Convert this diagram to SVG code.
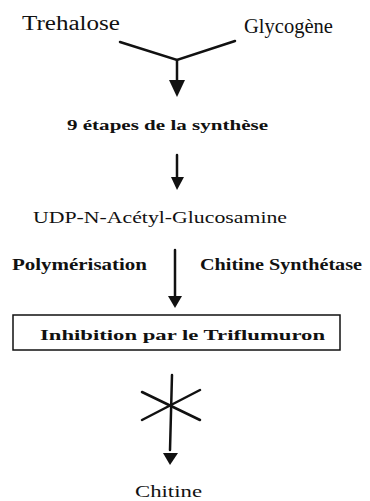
<svg xmlns="http://www.w3.org/2000/svg" width="370" height="501" viewBox="0 0 370 501">
<style>
text{font-family:"Liberation Serif","Times New Roman",serif;font-weight:bold;fill:#111}
text.n{font-weight:normal}
.l{stroke:#111;stroke-width:2.5;fill:none;stroke-linecap:round}
.h{fill:#111}
</style>
<rect width="370" height="501" fill="#fff"/>
<g id="trehalose"><text class="n" x="22" y="30" font-size="20" textLength="98" lengthAdjust="spacingAndGlyphs">Trehalose</text></g>
<g id="glycogene"><text class="n" x="244" y="33" font-size="20" textLength="89" lengthAdjust="spacingAndGlyphs">Glycogène</text></g>
<g id="etapes"><text x="67" y="130" font-size="15" textLength="201" lengthAdjust="spacingAndGlyphs">9 étapes de la synthèse</text></g>
<g id="udp"><text class="n" x="33" y="223" font-size="17" textLength="254" lengthAdjust="spacingAndGlyphs">UDP-N-Acétyl-Glucosamine</text></g>
<g id="polymerisation"><text x="12" y="270" font-size="16" textLength="135" lengthAdjust="spacingAndGlyphs">Polymérisation</text></g>
<g id="synthetase"><text x="200" y="270" font-size="16" textLength="162" lengthAdjust="spacingAndGlyphs">Chitine Synthétase</text></g>
<g id="inhibition">
<rect x="13" y="315" width="327" height="35" fill="none" stroke="#111" stroke-width="1.5"/>
<text x="40" y="340" font-size="15" textLength="285" lengthAdjust="spacingAndGlyphs">Inhibition par le Triflumuron</text>
</g>
<g id="chitine"><text class="n" x="135" y="497" font-size="17" textLength="67" lengthAdjust="spacingAndGlyphs">Chitine</text></g>
<g id="connectors">
<polyline class="l" points="120,42 177,60 235,41"/>
<line class="l" x1="177" y1="60" x2="177" y2="82"/>
<polygon class="h" points="169,80 185,80 177,97"/>
<line class="l" x1="177" y1="155" x2="177" y2="178"/>
<polygon class="h" points="171,177 184,177 177,190"/>
<line class="l" x1="175" y1="250" x2="175" y2="297"/>
<polygon class="h" points="168,296 182,296 175,308"/>
<line class="l" x1="172" y1="375" x2="170" y2="450"/>
<line class="l" x1="142" y1="392" x2="200" y2="420"/>
<line class="l" x1="142" y1="420" x2="200" y2="390"/>
<polygon class="h" points="163,453 178,453 170,465"/>
</g>
</svg>
